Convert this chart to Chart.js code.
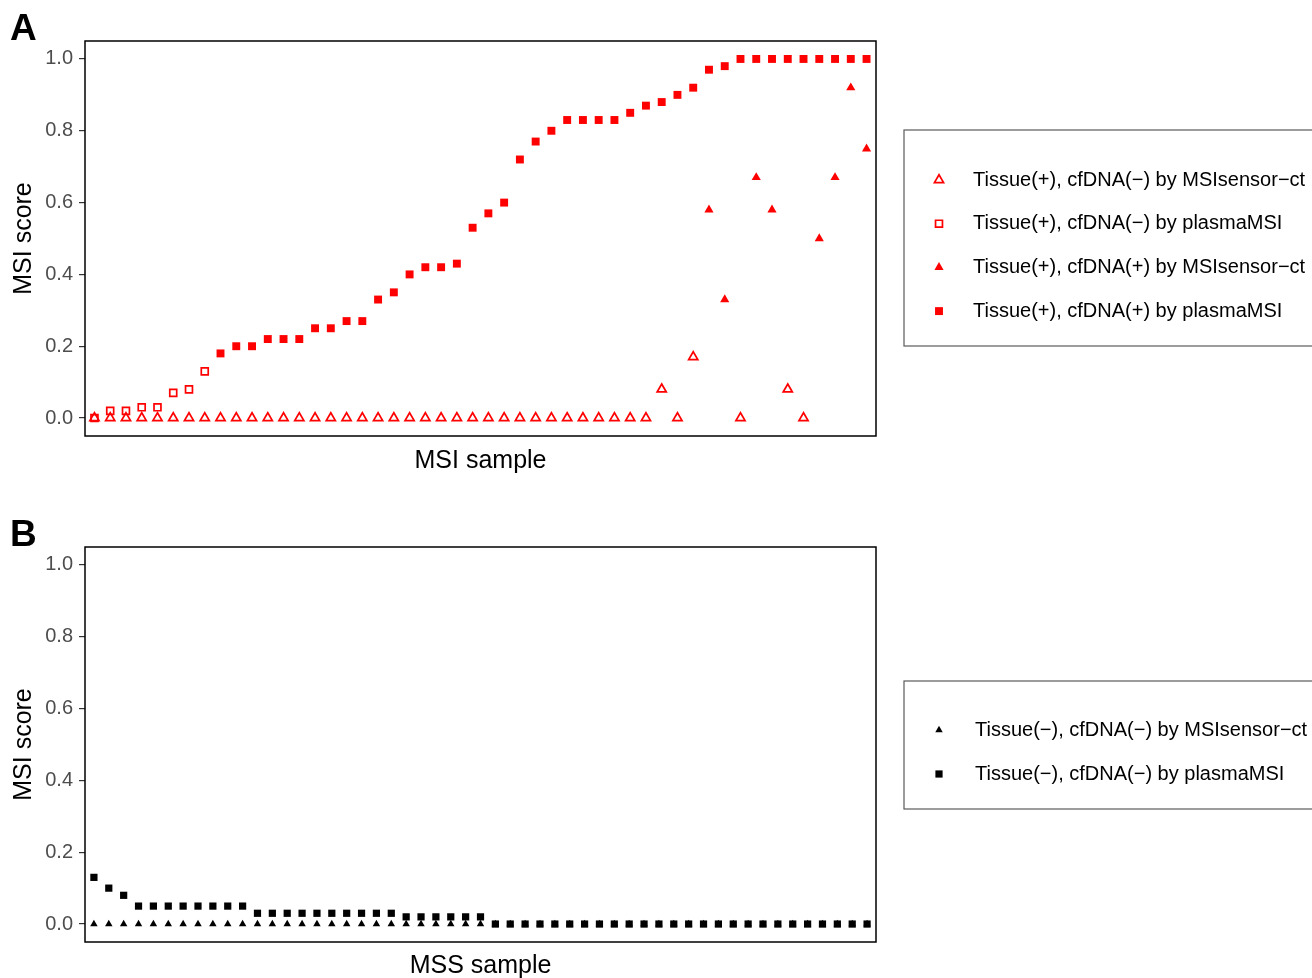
<!DOCTYPE html>
<html>
<head>
<meta charset="utf-8">
<title>MSI score</title>
<script src="https://cdn.jsdelivr.net/npm/chart.js@4.4.1/dist/chart.umd.min.js"></script>
<style>
  body { margin: 0; background: #fff; overflow: hidden; }
  canvas { position: absolute; left: 0; }
</style>
</head>
<body>
<canvas id="panelA" width="1312" height="489" style="top:0px"></canvas>
<canvas id="panelB" width="1312" height="500" style="top:489px"></canvas>
<script>
Chart.defaults.font.family = '"Liberation Sans", Arial, Helvetica, sans-serif';
Chart.defaults.color = '#000';

const yTicks = [0, 0.2, 0.4, 0.6, 0.8, 1.0];

// MSI samples (panel A), sorted by plasmaMSI score
const sensorScoreA = [0, 0, 0, 0, 0, 0, 0, 0, 0, 0,
                      0, 0, 0, 0, 0, 0, 0, 0, 0, 0,
                      0, 0, 0, 0, 0, 0, 0, 0, 0, 0,
                      0, 0, 0, 0, 0, 0, 0.08, 0, 0.17, 0.58,
                      0.33, 0, 0.67, 0.58, 0.08, 0, 0.50, 0.67, 0.92, 0.75];
const sensorCallA = [0, 0, 0, 0, 0, 0, 0, 0, 0, 0,
                     0, 0, 0, 0, 0, 0, 0, 0, 0, 0,
                     0, 0, 0, 0, 0, 0, 0, 0, 0, 0,
                     0, 0, 0, 0, 0, 0, 0, 0, 0, 1,
                     1, 0, 1, 1, 0, 0, 1, 1, 1, 1];
const plasmaScoreA = [0.00, 0.02, 0.02, 0.03, 0.03, 0.07, 0.08, 0.13, 0.18, 0.20,
                      0.20, 0.22, 0.22, 0.22, 0.25, 0.25, 0.27, 0.27, 0.33, 0.35,
                      0.40, 0.42, 0.42, 0.43, 0.53, 0.57, 0.60, 0.72, 0.77, 0.80,
                      0.83, 0.83, 0.83, 0.83, 0.85, 0.87, 0.88, 0.90, 0.92, 0.97,
                      0.98, 1.00, 1.00, 1.00, 1.00, 1.00, 1.00, 1.00, 1.00, 1.00];
const plasmaCallA = [0, 0, 0, 0, 0, 0, 0, 0, 1, 1,
                     1, 1, 1, 1, 1, 1, 1, 1, 1, 1,
                     1, 1, 1, 1, 1, 1, 1, 1, 1, 1,
                     1, 1, 1, 1, 1, 1, 1, 1, 1, 1,
                     1, 1, 1, 1, 1, 1, 1, 1, 1, 1];

// MSS samples (panel B)
const sensorScoreB = [0, 0, 0, 0, 0, 0, 0, 0, 0, 0,
                      0, 0, 0, 0, 0, 0, 0, 0, 0, 0,
                      0, 0, 0, 0, 0, 0, 0, 0, 0, 0,
                      0, 0, 0, 0, 0, 0, 0, 0, 0, 0,
                      0, 0, 0, 0, 0, 0, 0, 0, 0, 0,
                      0, 0, 0];
const plasmaScoreB = [0.13, 0.10, 0.08, 0.05, 0.05, 0.05, 0.05, 0.05, 0.05, 0.05,
                      0.05, 0.03, 0.03, 0.03, 0.03, 0.03, 0.03, 0.03, 0.03, 0.03,
                      0.03, 0.02, 0.02, 0.02, 0.02, 0.02, 0.02, 0.00, 0.00, 0.00,
                      0.00, 0.00, 0.00, 0.00, 0.00, 0.00, 0.00, 0.00, 0.00, 0.00,
                      0.00, 0.00, 0.00, 0.00, 0.00, 0.00, 0.00, 0.00, 0.00, 0.00,
                      0.00, 0.00, 0.00];

const legendA = ['Tissue(+), cfDNA(\u2212) by MSIsensor\u2212ct',
                 'Tissue(+), cfDNA(\u2212) by plasmaMSI',
                 'Tissue(+), cfDNA(+) by MSIsensor\u2212ct',
                 'Tissue(+), cfDNA(+) by plasmaMSI'];
const legendB = ['Tissue(\u2212), cfDNA(\u2212) by MSIsensor\u2212ct',
                 'Tissue(\u2212), cfDNA(\u2212) by plasmaMSI'];

const red = '#ff0000';

// pick the samples whose call matches, keeping the sample position as x
function pointsWhere(scores, calls, want) {
  const pts = [];
  scores.forEach((v, i) => {
    if (!calls || calls[i] === want) pts.push({ x: i, y: v });
  });
  return pts;
}

function marker(label, data, color, style, radius, open) {
  return {
    label: label,
    data: data,
    pointStyle: style,
    pointRadius: radius,
    pointHoverRadius: radius,
    pointBackgroundColor: open ? 'rgba(0,0,0,0)' : color,
    pointBorderColor: color,
    borderColor: color,
    pointBorderWidth: open ? 1.7 : 0,
    // squares sit on top of triangles
    order: style === 'rect' ? 1 : 2
  };
}

// frame, panel tag and boxed legend on the right
const panelDecor = {
  id: 'panelDecor',
  afterDraw(chart, args, opts) {
    const { ctx, chartArea: a } = chart;
    ctx.save();
    ctx.strokeStyle = '#000';
    ctx.lineWidth = 1.5;
    ctx.strokeRect(a.left, a.top, a.right - a.left, a.bottom - a.top);

    ctx.fillStyle = '#000';
    ctx.font = 'bold 37px "Liberation Sans", Arial, sans-serif';
    ctx.textBaseline = 'alphabetic';
    ctx.fillText(opts.tag, opts.tagX, opts.tagY);

    ctx.strokeStyle = '#5a5a5a';
    ctx.lineWidth = 1.2;
    ctx.strokeRect(opts.boxLeft, opts.boxTop, chart.width - opts.boxLeft + 20, opts.boxBottom - opts.boxTop);

    ctx.font = '20px "Liberation Sans", Arial, sans-serif';
    ctx.textBaseline = 'middle';
    chart.data.datasets.forEach((ds, i) => {
      const y = opts.firstY + i * opts.gap;
      ctx.fillStyle = ds.pointBackgroundColor;
      ctx.strokeStyle = ds.pointBorderColor;
      ctx.lineWidth = ds.pointBorderWidth;
      Chart.helpers.drawPoint(ctx, {
        pointStyle: ds.pointStyle,
        radius: ds.pointRadius,
        rotation: 0,
        borderWidth: ds.pointBorderWidth
      }, opts.markerX, y);
      ctx.fillStyle = '#000';
      ctx.fillText(ds.label, opts.textX, y);
    });
    ctx.restore();
  }
};

function makePanel(canvasId, datasets, count, xTitle, area, decor) {
  return new Chart(document.getElementById(canvasId), {
    type: 'scatter',
    data: { datasets: datasets },
    plugins: [panelDecor],
    options: {
      responsive: false,
      animation: false,
      layout: { padding: { top: area.top, right: 1312 - area.right, bottom: 0, left: 0 } },
      plugins: {
        legend: { display: false },
        tooltip: { enabled: false },
        panelDecor: decor
      },
      scales: {
        x: {
          type: 'linear',
          min: -0.6,
          max: count - 0.4,
          ticks: { display: false },
          grid: { display: false },
          border: { display: false },
          title: {
            display: true,
            text: xTitle,
            color: '#000',
            font: { size: 25 },
            padding: { top: 0, bottom: area.xTitlePad }
          },
          afterFit: (axis) => { axis.height = area.canvasHeight - area.bottom; }
        },
        y: {
          min: -0.05,
          max: 1.05,
          afterBuildTicks: (axis) => { axis.ticks = yTicks.map(v => ({ value: v })); },
          ticks: {
            color: '#4d4d4d',
            font: { size: 20 },
            padding: 6,
            callback: (v) => v.toFixed(1)
          },
          grid: {
            display: true,
            drawOnChartArea: false,
            drawTicks: true,
            tickLength: 6,
            color: '#333333',
            lineWidth: 1.2
          },
          border: { display: false },
          title: {
            display: true,
            text: 'MSI score',
            color: '#000',
            font: { size: 25 },
            padding: { top: 9, bottom: 0 }
          },
          afterFit: (axis) => { axis.width = area.left; }
        }
      }
    }
  });
}

const chartA = makePanel('panelA', [
  marker(legendA[0], pointsWhere(sensorScoreA, sensorCallA, 0), red, 'triangle', 5.3, true),
  marker(legendA[1], pointsWhere(plasmaScoreA, plasmaCallA, 0), red, 'rect', 4.9, true),
  marker(legendA[2], pointsWhere(sensorScoreA, sensorCallA, 1), red, 'triangle', 5.3, false),
  marker(legendA[3], pointsWhere(plasmaScoreA, plasmaCallA, 1), red, 'rect', 5.6, false)
], sensorScoreA.length, 'MSI sample',
  { top: 41, bottom: 436, left: 85, right: 876, canvasHeight: 489, xTitlePad: 13 },
  { tag: 'A', tagX: 10, tagY: 40, boxLeft: 904, boxTop: 130, boxBottom: 346,
    firstY: 180, gap: 43.7, markerX: 939, textX: 973 });

const chartB = makePanel('panelB', [
  marker(legendB[0], pointsWhere(sensorScoreB, null, 0), '#000', 'triangle', 4.3, false),
  marker(legendB[1], pointsWhere(plasmaScoreB, null, 0), '#000', 'rect', 5.1, false)
], sensorScoreB.length, 'MSS sample',
  { top: 58, bottom: 453, left: 85, right: 876, canvasHeight: 500, xTitlePad: 8 },
  { tag: 'B', tagX: 10, tagY: 57, boxLeft: 904, boxTop: 192, boxBottom: 320,
    firstY: 241, gap: 44, markerX: 939, textX: 975 });
</script>
</body>
</html>
